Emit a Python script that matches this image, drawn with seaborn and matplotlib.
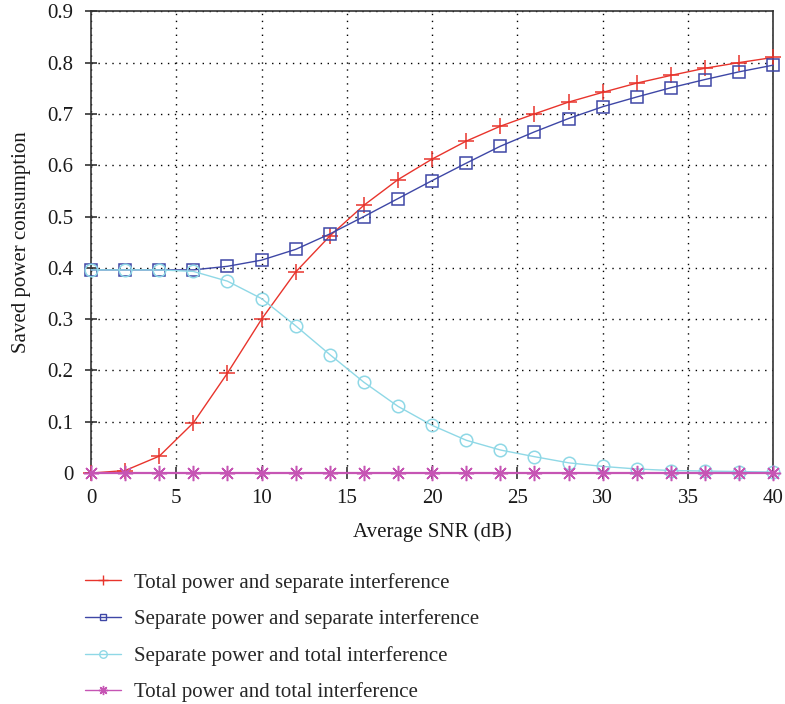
import numpy as np
import pandas as pd
import matplotlib
matplotlib.use("Agg")
import matplotlib.pyplot as plt
import seaborn as sns

snr = [0, 2, 4, 6, 8, 10, 12, 14, 16, 18, 20, 22, 24, 26, 28, 30, 32, 34, 36, 38, 40]
total_sep = [0.0, 0.005, 0.033, 0.098, 0.195, 0.300, 0.392, 0.462, 0.522, 0.572, 0.612,
             0.647, 0.676, 0.700, 0.723, 0.742, 0.760, 0.775, 0.789, 0.800, 0.810]
sep_sep = [0.396, 0.396, 0.396, 0.396, 0.403, 0.415, 0.436, 0.466, 0.500, 0.535, 0.570,
           0.604, 0.637, 0.665, 0.691, 0.714, 0.733, 0.751, 0.767, 0.782, 0.795]
sep_tot = [0.396, 0.396, 0.396, 0.393, 0.374, 0.340, 0.287, 0.231, 0.177, 0.130, 0.093,
           0.064, 0.045, 0.032, 0.020, 0.013, 0.008, 0.005, 0.004, 0.003, 0.002]
tot_tot = [0.0] * 21

labels = ["Total power and separate interference",
          "Separate power and separate interference",
          "Separate power and total interference",
          "Total power and total interference"]
series = [total_sep, sep_sep, sep_tot, tot_tot]
colors = ["#e8342c", "#3e47a6", "#8fd8e6", "#c655b4"]
markers = ["+", "s", "o", (8, 2, 0)]
msizes = [11, 8, 9, 11]

sns.set_style("white")
plt.rcParams['font.family'] = ['Liberation Serif', 'DejaVu Serif']

fig = plt.figure(figsize=(7.85, 7.04), dpi=100)
ax = fig.add_axes([0.116, 0.328, 0.869, 0.656])

handles = []
for lab, ys, c, m, ms in zip(labels, series, colors, markers, msizes):
    df = pd.DataFrame({"snr": snr, "val": ys})
    lw = 1.6 if c == "#c655b4" else 1.0
    sns.lineplot(data=df, x="snr", y="val", ax=ax, color=c, marker=m, markersize=ms,
                 markerfacecolor="none", markeredgecolor=c, markeredgewidth=1.1,
                 linewidth=lw, label=lab, legend=False, clip_on=False, zorder=3)
    h, = ax.plot([], [], color=c, marker=m, markersize=ms * 0.6, markerfacecolor="none",
                 markeredgecolor=c, linewidth=1.0, label=lab)
    handles.append(h)

ax.set_xlim(0, 40)
ax.set_ylim(0, 0.9)
ax.set_xticks([0, 5, 10, 15, 20, 25, 30, 35, 40])
ax.set_yticks([0, 0.1, 0.2, 0.3, 0.4, 0.5, 0.6, 0.7, 0.8, 0.9])
ax.set_yticklabels(["0", "0.1", "0.2", "0.3", "0.4", "0.5", "0.6", "0.7", "0.8", "0.9"])
ax.grid(True, color="black", linestyle=(0, (1, 4)), linewidth=1.0)
ax.tick_params(direction="inout", length=9, width=1.2, labelsize=15, colors="#333333",
               labelcolor="#1a1a1a", top=False, right=False, bottom=True, left=True)
ax.tick_params(axis="x", pad=7)
ax.tick_params(axis="y", pad=8)
for s in ax.spines.values():
    s.set_color("#333333")
    s.set_linewidth(1.2)
ax.set_xlabel("Average SNR (dB)", fontsize=15, labelpad=10, color="#1a1a1a")
ax.set_ylabel("Saved power consumption", fontsize=15, labelpad=12, color="#1a1a1a")

fig.legend(handles=handles, labels=labels, loc="upper left",
           bbox_to_anchor=(0.085, 0.213), frameon=False, fontsize=15,
           handlelength=1.7, labelspacing=0.8, handletextpad=0.63, borderpad=0.4)

fig.savefig("out.png", dpi=100)
